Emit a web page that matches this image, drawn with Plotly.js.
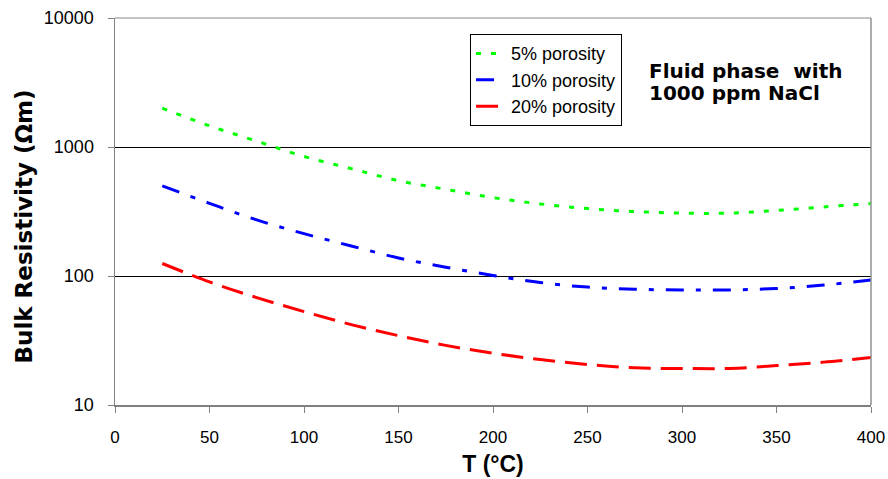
<!DOCTYPE html>
<html>
<head>
<meta charset="utf-8">
<script src="https://cdn.plot.ly/plotly-3.0.1.min.js"></script>
<style>html,body{margin:0;padding:0;background:#fff;}#chart{width:888px;height:479px;}</style>
</head>
<body>
<div id="chart"></div>
<script>
const temperature = [25, 50, 75, 100, 125, 150, 175, 200, 225, 250, 275, 300, 325, 350, 375, 400];
const porosity5 = [2000, 1460, 1110, 845, 680, 548, 470, 405, 362, 333, 316, 307, 307, 322, 343, 365];
const porosity10 = [500, 366, 272, 213, 171, 138, 117, 101, 89, 82, 79, 78, 78, 80, 85, 93];
const porosity20 = [125, 90, 68, 53, 42, 34.5, 29, 25.2, 22.5, 20.6, 19.4, 19.2, 19.2, 20.2, 21.5, 23.3];
const seriesNames = ["5% porosity", "10% porosity", "20% porosity"];
const xTicks = [0, 50, 100, 150, 200, 250, 300, 350, 400];
const yTicks = [10, 100, 1000, 10000];

const traces = [
  {x: temperature, y: porosity5, name: seriesNames[0], legendgroup: "a", mode: "lines", line: {color: "#00ff00", width: 3, dash: "5px,10px", shape: "spline"}},
  {x: temperature, y: porosity10, name: seriesNames[1], legendgroup: "b", mode: "lines", line: {color: "#0000ff", width: 3, dash: "18px,12px,5px,12px", shape: "spline"}},
  {x: temperature, y: porosity20, name: seriesNames[2], legendgroup: "c", mode: "lines", line: {color: "#ff0000", width: 3, dash: "22px,10px", shape: "spline"}}
];

const annFont = {family: "DejaVu Sans, Verdana, sans-serif", size: 20, weight: "bold", color: "#000"};

const layout = {
  width: 888, height: 479,
  margin: {l: 115, r: 17, t: 18, b: 74},
  paper_bgcolor: "#ffffff", plot_bgcolor: "#ffffff",
  font: {family: "Liberation Sans, Arial, sans-serif", color: "#000", size: 15},
  showlegend: true,
  legend: {x: 0.4696, y: 0.958, xanchor: "left", yanchor: "top", bordercolor: "#000", borderwidth: 1, bgcolor: "#fff",
    font: {family: "Liberation Sans, Arial, sans-serif", size: 18, color: "#000"}, tracegroupgap: 9, traceorder: "normal"},
  xaxis: {
    range: [0, 400], tickvals: xTicks, ticktext: xTicks.map(String),
    showgrid: false, zeroline: false, showline: true, linecolor: "#808080", linewidth: 1.5,
    ticks: "outside", ticklen: 6, tickcolor: "#808080", tickwidth: 1, ticklabelstandoff: 10,
    tickfont: {size: 17, family: "Liberation Sans, Arial, sans-serif"},
    title: {text: "T (°C)", font: {family: "Liberation Sans, Arial, sans-serif", size: 23, weight: "bold"}, standoff: 10}
  },
  yaxis: {
    type: "log", range: [1, 4], tickvals: yTicks, ticktext: yTicks.map(String),
    showgrid: true, gridcolor: "#000", gridwidth: 1, zeroline: false,
    showline: true, linecolor: "#808080", linewidth: 1.5,
    ticks: "outside", ticklen: 6, tickcolor: "#808080", tickwidth: 1, ticklabelstandoff: 10,
    tickfont: {size: 18, family: "Liberation Sans, Arial, sans-serif"},
    title: {text: ""}
  },
  shapes: [
    {type: "line", xref: "paper", yref: "paper", x0: 0, x1: 1, y0: 1, y1: 1, line: {color: "#b0b0b0", width: 1.5}, layer: "above"},
    {type: "line", xref: "paper", yref: "paper", x0: 1, x1: 1, y0: 0, y1: 1, line: {color: "#909090", width: 1.5}, layer: "above"}
  ],
  annotations: [
    {xref: "paper", yref: "paper", x: 0.704, y: 0.863, xanchor: "left", yanchor: "middle", align: "left", showarrow: false,
     text: "Fluid phase&nbsp; with", font: annFont},
    {xref: "paper", yref: "paper", x: 0.704, y: 0.805, xanchor: "left", yanchor: "middle", align: "left", showarrow: false,
     text: "1000 ppm NaCl", font: annFont},
    {xref: "paper", yref: "paper", x: -0.121, y: 0.46, xanchor: "center", yanchor: "middle", textangle: -90, showarrow: false,
     text: "Bulk Resistivity (Ωm)", font: {family: "DejaVu Sans, Verdana, sans-serif", size: 23, weight: "bold", color: "#000"}}
  ]
};

Plotly.newPlot("chart", traces, layout, {displayModeBar: false, staticPlot: true});
</script>
</body>
</html>
